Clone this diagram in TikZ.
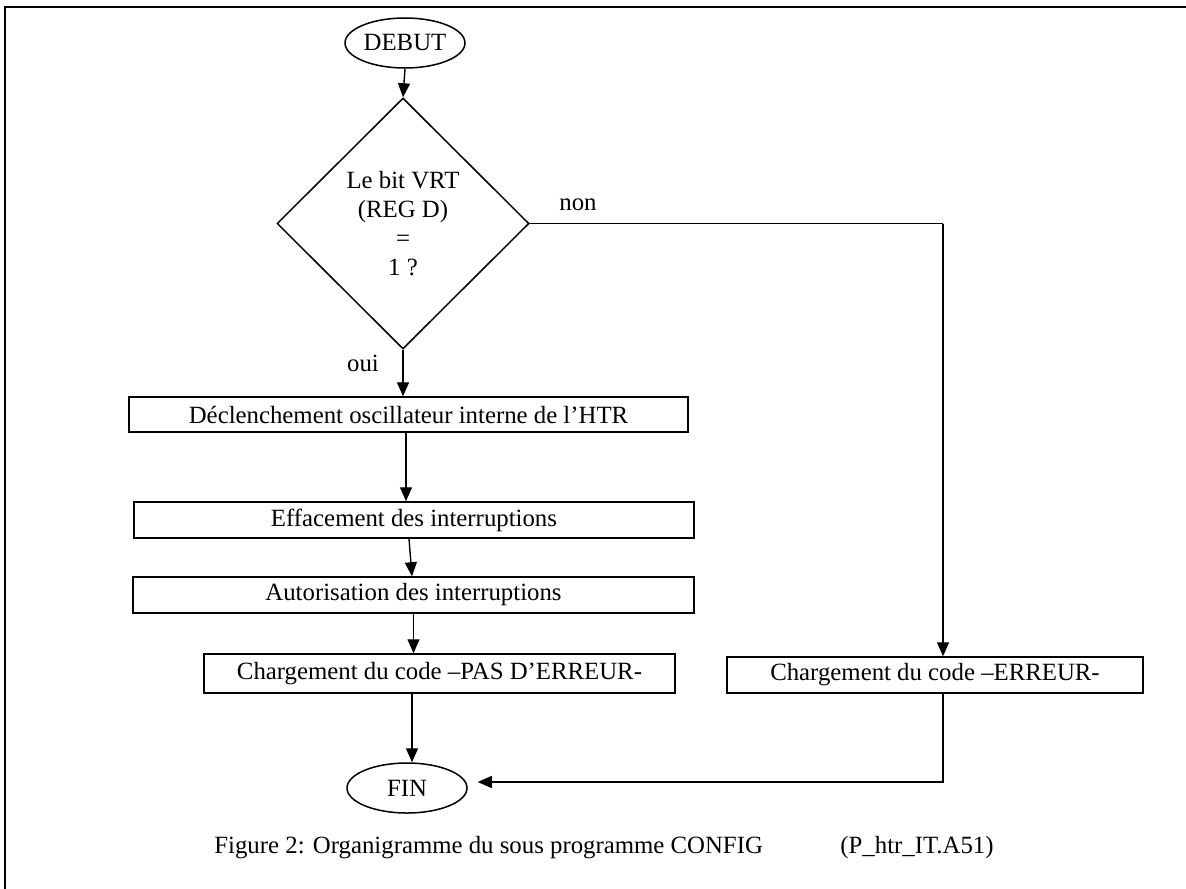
\documentclass[tikz,border=0pt]{standalone}
\usepackage{fontspec}
\setmainfont{Liberation Serif}
\usetikzlibrary{shapes.geometric,arrows.meta,calc}

\begin{document}
\begin{tikzpicture}[x=0.5pt,y=-0.5pt,
  every node/.style={font=\fontsize{12.4}{14.5}\selectfont, inner sep=0pt},
  stepbox/.style={draw, rectangle, line width=0.75pt},
  terminal/.style={draw, ellipse, line width=0.75pt, minimum width=60pt, minimum height=25pt},
  decision/.style={draw, diamond, line width=0.75pt, minimum width=126pt, minimum height=125.5pt, align=center},
  arr/.style={line width=0.7pt, -{Triangle[length=7pt,width=6pt]}},
  link/.style={line width=0.7pt}]

\useasboundingbox (0,0) rectangle (1186,888);
\clip (0,0) rectangle (1186,888);

% page frame (runs off the right and bottom edges)
\draw[line width=1pt] (5,7) rectangle (1240,950);

% flowchart nodes
\node[terminal] (debut) at (405,43) {DEBUT};
\node[decision] (test) at (403,223.5) {Le bit VRT\\(REG D)\\=\\1 ?};
\node[stepbox, minimum width=279.5pt, minimum height=17.5pt] (b1) at (408.5,414.5) {Déclenchement oscillateur interne de l’HTR};
\node[stepbox, minimum width=280pt, minimum height=18pt] (b2) at (414,520) {Effacement des interruptions};
\node[stepbox, minimum width=280.5pt, minimum height=18pt] (b3) at (413.5,595) {Autorisation des interruptions};
\node[stepbox, minimum width=235.5pt, minimum height=19.5pt] (b4) at (439.5,673.5) {Chargement du code –PAS D’ERREUR-};
\node[stepbox, minimum width=208pt, minimum height=18pt] (err) at (935,675) {Chargement du code –ERREUR-};
\node[terminal] (fin) at (407,788) {FIN};

% branch labels
\node (non) at (578,205) {non};
\node (oui) at (363,363) {oui};

% connectors
\draw[arr] (debut.south) -- (test.north);
\draw[arr] (test.south) -- (test.south |- b1.north);
\draw[arr] ([xshift=-1.25pt]b1.south) -- ([xshift=-1.25pt]b1.south |- b2.north);
\draw[arr] ([xshift=-2.5pt]b2.south) -- ([xshift=-0.75pt]b3.north);
\draw[arr] (b3.south) -- (b3.south |- b4.north);
\draw[arr] ([xshift=-13.75pt]b4.south) -- ([xshift=-13.75pt]b4.south |- fin.north);

\coordinate (corner) at (943,223.5);
\draw[link] (test.east) -- (corner);
\draw[arr] (corner) -- (corner |- err.north);
\draw[arr] ([xshift=4pt]err.south) |- ($(fin.east)+(10,-6)$);

% caption
\node[anchor=west] (cap) at (214,848) {Figure 2: Organigramme du sous programme CONFIG};
\node[anchor=west] (src) at (840,848) {(P\_htr\_IT.A51)};
\end{tikzpicture}
\end{document}
